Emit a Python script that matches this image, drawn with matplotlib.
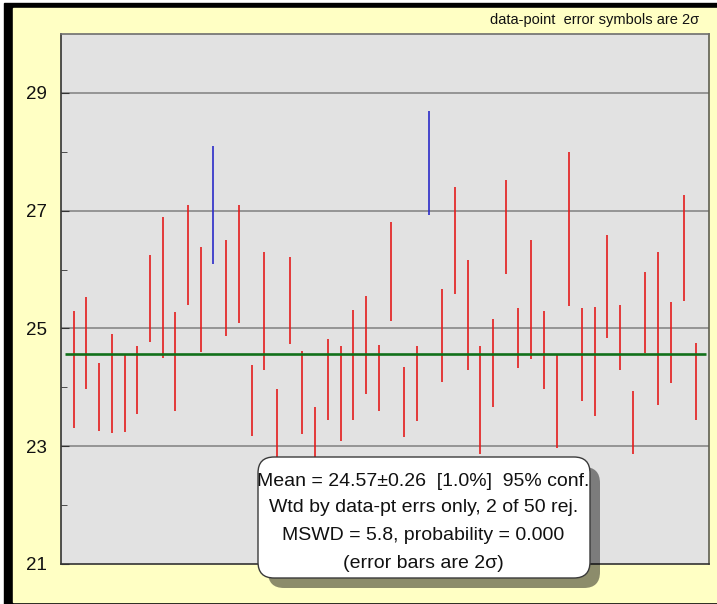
import matplotlib
matplotlib.use("Agg")
import matplotlib.pyplot as plt
from matplotlib.patches import Rectangle, FancyBboxPatch
import numpy as np

# 2-sigma error bars (upper and lower ends)
bar_hi = [25.29, 25.54, 24.42, 24.91, 24.57, 24.70, 26.25, 26.89, 25.28, 27.10,
          26.38, 28.10, 26.50, 27.10, 24.38, 26.29, 23.98, 26.22, 24.61, 23.67,
          24.82, 24.70, 25.31, 25.55, 24.72, 26.81, 24.35, 24.70, 28.69, 25.67,
          27.40, 26.17, 24.70, 25.16, 27.52, 25.34, 26.50, 25.29, 24.57, 28.00,
          25.34, 25.36, 26.59, 25.39, 23.93, 25.96, 26.29, 25.45, 27.27, 24.76]
bar_lo = [23.31, 23.97, 23.26, 23.23, 23.25, 23.54, 24.77, 24.49, 23.60, 25.39,
          24.60, 26.10, 24.87, 25.09, 23.18, 24.29, 22.80, 24.74, 23.20, 22.70,
          23.44, 23.09, 23.45, 23.88, 23.59, 25.13, 23.16, 23.42, 26.92, 24.09,
          25.59, 24.30, 22.87, 23.66, 25.92, 24.33, 24.48, 23.97, 22.97, 25.38,
          23.76, 23.51, 24.83, 24.29, 22.87, 24.58, 23.70, 24.07, 25.47, 23.44]
rejected = [12, 29]          # 1-based point numbers drawn in blue
mean_value = 24.57
y_ticks = [21, 23, 25, 27, 29]
minor_ticks = [22, 24, 26, 28]
box_lines = ["Mean = 24.57\u00b10.26  [1.0%]  95% conf.",
             "Wtd by data-pt errs only, 2 of 50 rej.",
             "MSWD = 5.8, probability = 0.000",
             "(error bars are 2\u03c3)"]
note_text = "data-point  error symbols are 2\u03c3"

plt.rcParams['font.family'] = ['Liberation Sans', 'DejaVu Sans']

W, H = 717, 604
fig = plt.figure(figsize=(W / 100, H / 100), dpi=100, facecolor='white')
px = fig.dpi_scale_trans   # inches, 1 in = 100 px

# black frame and yellow background
fig.add_artist(Rectangle((0.04, 0.0), 7.2, 6.01, transform=px, color='black', zorder=-10))
fig.add_artist(Rectangle((0.13, 0.025), 7.2, 5.935, transform=px, color='#FFFFC4', zorder=-9))

ax = fig.add_axes([61 / W, (H - 564) / H, (709 - 61) / W, (564 - 34) / H])
ax.set_facecolor('#E2E2E2')
ax.set_xlim(0, 51)
ax.set_ylim(21, 30)

# gridlines
for yv in y_ticks[1:]:
    ax.axhline(yv, color='#8E8E8E', lw=1.3, zorder=1)

x = np.arange(1, len(bar_hi) + 1)
colors = ['#2B2BC8' if i in rejected else '#E41C1C' for i in x]
ax.vlines(x, bar_lo, bar_hi, colors=colors, lw=1.2, zorder=3)

ax.plot([0.3, 50.8], [mean_value, mean_value], color='#11701A', lw=1.9, zorder=4,
        solid_capstyle='butt')

ax.set_xticks([])
ax.set_yticks(y_ticks)
ax.set_yticks(minor_ticks, minor=True)
ax.tick_params(axis='y', which='both', direction='in', color='#333333', labelsize=13.5, pad=10)
ax.tick_params(axis='y', which='major', length=6)
ax.tick_params(axis='y', which='minor', length=4)
for lab in ax.get_yticklabels():
    lab.set_color('#111111')

ax.spines['left'].set_color('#333333')
ax.spines['bottom'].set_color('#333333')
ax.spines['top'].set_color('#6E6E6E')
ax.spines['right'].set_color('#5E5E50')
for sp in ax.spines.values():
    sp.set_linewidth(1.2)

fig.text(699 / W, 1 - 20 / H, note_text, ha='right', va='center', fontsize=10.5, color='#111111')

# result box with drop shadow
bx, by, bw, bh = 2.58, 0.26, 3.32, 1.21
fig.add_artist(FancyBboxPatch((bx + 0.10, by - 0.10), bw, bh, boxstyle='round,pad=0,rounding_size=0.16',
                              transform=px, facecolor='black', edgecolor='none', alpha=0.45, zorder=5))
fig.add_artist(FancyBboxPatch((bx, by), bw, bh, boxstyle='round,pad=0,rounding_size=0.16',
                              transform=px, facecolor='white', edgecolor='#3A3A3A', lw=1.0, zorder=6))
line_y = [604 - 481, 604 - 508, 604 - 536, 604 - 563]
for txt, yy in zip(box_lines, line_y):
    fig.text(4.235, yy / 100, txt, transform=px, ha='center', va='center',
             fontsize=14, color='#111111', zorder=7)

fig.savefig('out.png', dpi=100, facecolor='white')
